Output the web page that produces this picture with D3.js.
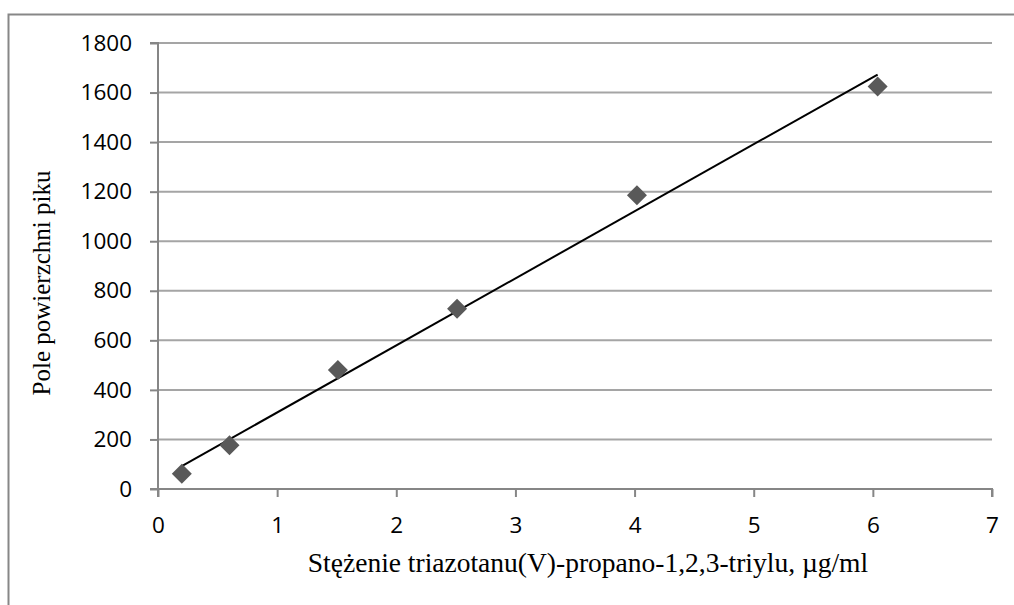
<!DOCTYPE html>
<html>
<head>
<meta charset="utf-8">
<script src="https://cdn.jsdelivr.net/npm/d3@7"></script>
<style>
  body { margin: 0; background: #fff; }
</style>
</head>
<body>
<script>
var w = 1014;
var h = 605;

// concentration (ug/ml) and peak area
var conc = [0.2, 0.6, 1.51, 2.51, 4.02, 6.04];
var area = [62, 177, 480, 727, 1186, 1624];
var xTicks = [0, 1, 2, 3, 4, 5, 6, 7];
var yTicks = [0, 200, 400, 600, 800, 1000, 1200, 1400, 1600, 1800];

var dataset = conc.map(function (c, i) {
  return { x: c, y: area[i] };
});

var xScale = d3.scaleLinear().domain([0, 7]).range([158, 992]);
var yScale = d3.scaleLinear().domain([0, 1800]).range([489, 43]);

var svg = d3.select("body").append("svg").attr("width", w).attr("height", h);

// chart frame (only top and left visible)
svg.append("path")
  .attr("d", "M8.5," + h + "V14.5H" + w)
  .attr("fill", "none")
  .attr("stroke", "#878787")
  .attr("stroke-width", 2);

// gridlines
svg.append("g")
  .selectAll("line")
  .data(yTicks.slice(1))
  .enter()
  .append("line")
  .attr("x1", xScale(0))
  .attr("x2", xScale(7))
  .attr("y1", function (d) { return yScale(d); })
  .attr("y2", function (d) { return yScale(d); })
  .attr("stroke", "#a5a5a5")
  .attr("stroke-width", 2);

// y axis
var yAxis = d3.axisLeft(yScale).tickValues(yTicks).tickSize(8).tickPadding(18).tickFormat(d3.format("d"));
var gy = svg.append("g").attr("transform", "translate(" + xScale(0) + ",0)").call(yAxis);

// x axis
var xAxis = d3.axisBottom(xScale).tickValues(xTicks).tickSize(8).tickPadding(20).tickFormat(d3.format("d"));
var gx = svg.append("g").attr("transform", "translate(0," + yScale(0) + ")").call(xAxis);

[gx, gy].forEach(function (g) {
  g.select(".domain").attr("stroke", "#868686").attr("stroke-width", 2);
  g.selectAll(".tick line").attr("stroke", "#868686").attr("stroke-width", 2);
  g.selectAll(".tick text")
    .attr("fill", "#000")
    .attr("font-family", "'Open Sans', sans-serif")
    .attr("font-size", "22.5px");
});
gy.select(".domain").attr("d", "M-8," + yScale(1800) + "H0V" + yScale(0) + "H-8");
gx.select(".domain").attr("d", "M" + xScale(0) + ",8V0H" + xScale(7) + "V8");

// linear trendline (least squares)
var mx = d3.mean(conc), my = d3.mean(area);
var sxy = d3.sum(dataset, function (d) { return (d.x - mx) * (d.y - my); });
var sxx = d3.sum(dataset, function (d) { return (d.x - mx) * (d.x - mx); });
var slope = sxy / sxx;
var intercept = my - slope * mx;
var xmin = d3.min(conc), xmax = d3.max(conc);

svg.append("line")
  .attr("x1", xScale(xmin))
  .attr("y1", yScale(intercept + slope * xmin))
  .attr("x2", xScale(xmax))
  .attr("y2", yScale(intercept + slope * xmax))
  .attr("stroke", "#000")
  .attr("stroke-width", 2);

// markers
svg.append("g")
  .selectAll("path")
  .data(dataset)
  .enter()
  .append("path")
  .attr("d", "M0,-10L10,0L0,10L-10,0Z")
  .attr("transform", function (d) {
    return "translate(" + xScale(d.x) + "," + yScale(d.y) + ")";
  })
  .attr("fill", "#595959");

// axis titles
svg.append("text")
  .text("Stężenie triazotanu(V)-propano-1,2,3-triylu, µg/ml")
  .attr("x", 588)
  .attr("y", 572)
  .attr("text-anchor", "middle")
  .attr("font-family", "'Liberation Serif', serif")
  .attr("font-size", "27.5px");

svg.append("text")
  .text("Pole powierzchni piku")
  .attr("transform", "translate(50,283) rotate(-90)")
  .attr("text-anchor", "middle")
  .attr("font-family", "'Liberation Serif', serif")
  .attr("font-size", "25px");
</script>
</body>
</html>
